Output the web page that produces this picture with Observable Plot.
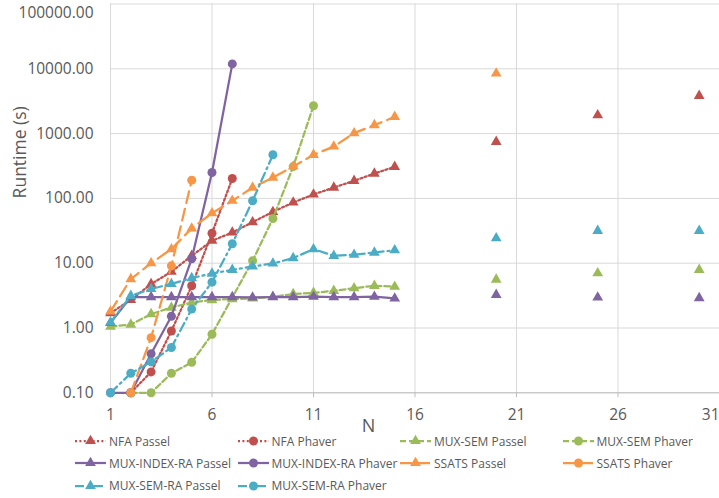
<!DOCTYPE html>
<html><head><meta charset="utf-8">
<script src="https://cdn.jsdelivr.net/npm/d3@7"></script>
<script src="https://cdn.jsdelivr.net/npm/@observablehq/plot@0.6"></script>
<style>
html,body{margin:0;padding:0;background:#fff;}
#wrap{position:relative;width:719px;height:498px;overflow:hidden;font-family:"Open Sans",sans-serif;}
#chart{position:absolute;left:0;top:0;}
.item{position:absolute;display:flex;align-items:center;height:16px;font-size:12px;color:#595959;white-space:nowrap;}
.item svg{margin-right:3px;}
</style></head><body>
<div id="wrap"><div id="chart"></div><div id="legend"></div></div>
<script>
// ---- data ----
const nPassel = [1,2,3,4,5,6,7,8,9,10,11,12,13,14,15];
const nFar = [20,25,30];

const nfaPassel = [1.7,2.72,4.76,7.4,13,22.2,29.8,43,62,86.5,115,147,187,242,307];
const nfaPasselFar = [747,1930,3830];
const nNfaPhaver = [2,3,4,5,6,7];
const nfaPhaver = [0.1,0.21,0.9,4.48,29,203];

const muxSemPassel = [1.05,1.13,1.64,2.07,2.48,2.7,2.8,2.86,3.03,3.34,3.49,3.75,4.12,4.48,4.35];
const muxSemPasselFar = [5.6,7.0,7.9];
const nMuxSemPhaver = [2,3,4,5,6,8,9,10,11];
const muxSemPhaver = [0.1,0.1,0.2,0.295,0.8,10.9,49,310,2690];

const muxIdxPassel = [1.2,3.0,3.0,3.0,3.0,3.0,3.0,2.96,3.0,3.0,3.05,3.0,3.0,3.05,2.86];
const muxIdxPasselFar = [3.25,2.96,2.9];
const nMuxIdxPhaver = [1,2,3,4,5,6,7];
const muxIdxPhaver = [0.1,0.1,0.4,1.52,11.7,251,11900];

const ssatsPassel = [1.8,5.7,10,16.5,34.5,59,92,147,210,311,471,632,1017,1353,1816];
const nSsatsFar = [20];
const ssatsPasselFar = [8470];
const nSsatsPhaver = [2,3,4,5];
const ssatsPhaver = [0.1,0.71,9.1,191];

const muxSemRaPassel = [1.22,3.14,4.0,4.8,5.9,6.93,7.9,8.9,9.9,12,16.5,13,13.5,14.6,15.9];
const muxSemRaPasselFar = [24.4,31.6,31.6];
const nMuxSemRaPhaver = [1,2,3,4,5,6,7,8,9];
const muxSemRaPhaver = [0.1,0.2,0.3,0.5,1.96,5.1,20,92,471];

const xTicks = [1,6,11,16,21,26,31];
const yTicks = [0.1,1,10,100,1000,10000,100000];

// ---- series table ----
const red="#C0504D", green="#9BBB59", purple="#8064A2", orange="#F79646", cyan="#4BACC6";
const dotted="2,2.4", dashed="6,3", solid=null, longDash="12,6", dashDot="9,4,2,4";
const series = [
  {name:"NFA Passel", color:red, dash:dotted, symbol:"triangle", n:nPassel, v:nfaPassel, nf:nFar, vf:nfaPasselFar},
  {name:"NFA Phaver", color:red, dash:dotted, symbol:"circle", n:nNfaPhaver, v:nfaPhaver},
  {name:"MUX-SEM Passel", color:green, dash:dashed, symbol:"triangle", n:nPassel, v:muxSemPassel, nf:nFar, vf:muxSemPasselFar},
  {name:"MUX-SEM Phaver", color:green, dash:dashed, symbol:"circle", n:nMuxSemPhaver, v:muxSemPhaver},
  {name:"MUX-INDEX-RA Passel", color:purple, dash:solid, symbol:"triangle", n:nPassel, v:muxIdxPassel, nf:nFar, vf:muxIdxPasselFar},
  {name:"MUX-INDEX-RA Phaver", color:purple, dash:solid, symbol:"circle", n:nMuxIdxPhaver, v:muxIdxPhaver},
  {name:"SSATS Passel", color:orange, dash:longDash, symbol:"triangle", n:nPassel, v:ssatsPassel, nf:nSsatsFar, vf:ssatsPasselFar},
  {name:"SSATS Phaver", color:orange, dash:longDash, symbol:"circle", n:nSsatsPhaver, v:ssatsPhaver},
  {name:"MUX-SEM-RA Passel", color:cyan, dash:dashDot, symbol:"triangle", n:nPassel, v:muxSemRaPassel, nf:nFar, vf:muxSemRaPasselFar},
  {name:"MUX-SEM-RA Phaver", color:cyan, dash:dashDot, symbol:"circle", n:nMuxSemRaPhaver, v:muxSemRaPhaver}
];

const triR = 4.0, circR = 4.5;
const seriesMarks = [];
for (const s of series) {
  const joined = s.n.map((n,i)=>({n, v:s.v[i]}));
  const far = (s.nf||[]).map((n,i)=>({n, v:s.vf[i]}));
  seriesMarks.push(Plot.line(joined, {x:"n", y:"v", stroke:s.color, strokeWidth:2.25,
    strokeDasharray:s.dash||undefined, strokeLinejoin:"round"}));
  seriesMarks.push(Plot.dot(joined.concat(far), {x:"n", y:"v", symbol:s.symbol, fill:s.color, stroke:"none",
    r: s.symbol==="triangle" ? triR : circR}));
}

const H = 440, plotTop = 3.5, plotBottom = 392.3;
const chart = Plot.plot({
  width:719, height:H,
  marginLeft:110, marginRight:0, marginTop:plotTop, marginBottom:H-plotBottom,
  x:{domain:[1,31]},
  y:{type:"log", domain:[0.1,100000]},
  style:{fontFamily:"'Open Sans',sans-serif", fontSize:"15.5px", color:"#595959", background:"transparent", overflow:"visible"},
  marks:[
    Plot.gridX(xTicks, {stroke:"#d9d9d9", strokeOpacity:1, strokeWidth:1}),
    Plot.gridY(yTicks, {stroke:"#d9d9d9", strokeOpacity:1, strokeWidth:1}),
    Plot.ruleY([0.1], {stroke:"#bfbfbf", strokeWidth:1}),
    Plot.axisX(xTicks.slice(0,-1), {tickSize:5, tickPadding:11, stroke:"#bfbfbf", fill:"#595959", label:null, fontSize:15.5}),
    Plot.axisX(xTicks.slice(-1), {tickSize:5, tickPadding:11, stroke:"#bfbfbf", fill:"#595959", label:null, fontSize:15.5, textAnchor:"end"}),
    Plot.axisY(yTicks.slice(0,-1), {tickSize:0, tickPadding:17, tickFormat:d3.format(".2f"), fill:"#595959", label:null, fontSize:15.5}),
    Plot.axisY(yTicks.slice(-1), {tickSize:0, tickPadding:17, tickFormat:d3.format(".2f"), fill:"#595959", label:null, fontSize:15.5, dy:9.5}),
    Plot.text(["Runtime (s)"], {frameAnchor:"left", rotate:-90, dx:-90, fontSize:17.5, fill:"#595959"}),
    Plot.text(["N"], {frameAnchor:"bottom", dy:39, dx:-46.5, fontSize:18, fill:"#595959"}),
    ...seriesMarks
  ]
});
document.getElementById("chart").appendChild(chart);

// ---- legend ----
const legend = document.getElementById("legend");
const svgNS = "http://www.w3.org/2000/svg";
series.forEach((s, i) => {
  const col = i % 4, row = Math.floor(i / 4);
  const item = document.createElement("div");
  item.className = "item";
  item.style.left = (75 + col * 162.5) + "px";
  item.style.top = (441 + row * 22.3 - 8) + "px";
  const svg = document.createElementNS(svgNS, "svg");
  svg.setAttribute("width", 31); svg.setAttribute("height", 14);
  const line = document.createElementNS(svgNS, "line");
  line.setAttribute("x1", 0); line.setAttribute("x2", 31); line.setAttribute("y1", 7); line.setAttribute("y2", 7);
  line.setAttribute("stroke", s.color); line.setAttribute("stroke-width", 2.25);
  if (s.dash) line.setAttribute("stroke-dasharray", s.dash);
  svg.appendChild(line);
  const sym = document.createElementNS(svgNS, "path");
  const rr = s.symbol === "triangle" ? triR : circR;
  sym.setAttribute("d", d3.symbol(s.symbol === "triangle" ? d3.symbolTriangle : d3.symbolCircle, Math.PI*rr*rr)());
  sym.setAttribute("transform", "translate(15.5,7)");
  sym.setAttribute("fill", s.color);
  svg.appendChild(sym);
  item.appendChild(svg);
  const t = document.createElement("span");
  t.textContent = s.name;
  item.appendChild(t);
  legend.appendChild(item);
});
</script>
</body></html>
